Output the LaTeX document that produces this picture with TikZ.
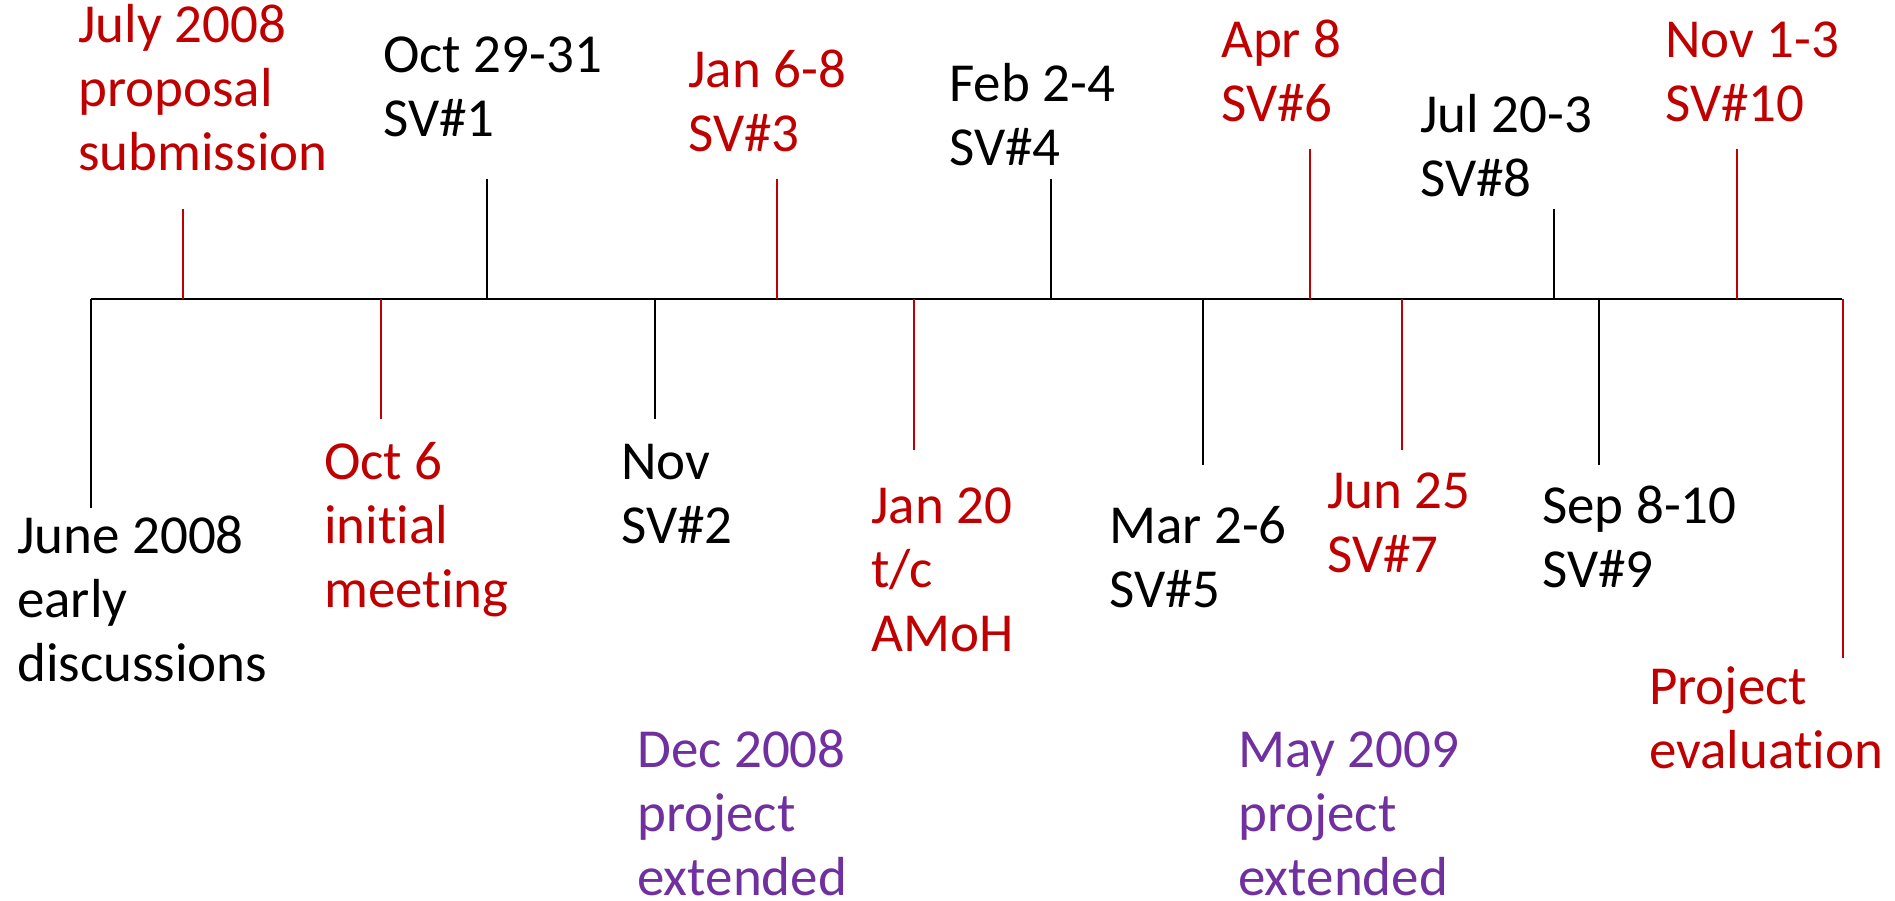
\documentclass[tikz,border=0pt]{standalone}
\usepackage{fontspec}
\setmainfont[RawFeature={-liga;-clig;-dlig}]{Carlito}
\definecolor{tlred}{HTML}{C00000}
\definecolor{tlpurple}{HTML}{7030A0}
\definecolor{tlblack}{HTML}{000000}
\newcommand\tllines[1]{\begin{tabular}[t]{@{}l@{}}#1\end{tabular}}
\begin{document}
\begin{tikzpicture}[x=1pt,y=-1pt,
  lbl/.style={anchor=base west,inner sep=0pt,font=\fontsize{55}{64}\selectfont},
  redlbl/.style={lbl,text=tlred},
  blklbl/.style={lbl,text=tlblack},
  purlbl/.style={lbl,text=tlpurple},
  axis/.style={line width=2.2pt,tlblack},
  redtick/.style={line width=1.4pt,tlred},
  blktick/.style={line width=1.4pt,tlblack}]
\useasboundingbox[fill=white] (0,0) rectangle (1895,901);
% timeline axis
\coordinate (axL) at (91,299);
\coordinate (axR) at (1842,299);
\draw[axis] (axL) -- (axR);
% tick coordinates
\coordinate (jA) at (91,299);   \coordinate (jB) at (91,508);
\coordinate (yA) at (183,299);  \coordinate (yB) at (183,209);
\coordinate (o6A) at (381,299); \coordinate (o6B) at (381,419);
\coordinate (o2A) at (487,299); \coordinate (o2B) at (487,179);
\coordinate (nA) at (655,299);  \coordinate (nB) at (655,419);
\coordinate (j6A) at (777,299); \coordinate (j6B) at (777,179);
\coordinate (j2A) at (914,299); \coordinate (j2B) at (914,450);
\coordinate (fA) at (1051,299); \coordinate (fB) at (1051,179);
\coordinate (mA) at (1203,299); \coordinate (mB) at (1203,465);
\coordinate (aA) at (1310,299); \coordinate (aB) at (1310,149);
\coordinate (u2A) at (1402,299);\coordinate (u2B) at (1402,450);
\coordinate (l2A) at (1554,299);\coordinate (l2B) at (1554,209);
\coordinate (sA) at (1599,299); \coordinate (sB) at (1599,465);
\coordinate (v1A) at (1737,299);\coordinate (v1B) at (1737,149);
\coordinate (pA) at (1843,299); \coordinate (pB) at (1843,658);
\draw[blktick] (jA) -- (jB);
\draw[redtick] (yA) -- (yB);
\draw[redtick] (o6A) -- (o6B);
\draw[blktick] (o2A) -- (o2B);
\draw[blktick] (nA) -- (nB);
\draw[redtick] (j6A) -- (j6B);
\draw[redtick] (j2A) -- (j2B);
\draw[blktick] (fA) -- (fB);
\draw[blktick] (mA) -- (mB);
\draw[redtick] (aA) -- (aB);
\draw[redtick] (u2A) -- (u2B);
\draw[blktick] (l2A) -- (l2B);
\draw[blktick] (sA) -- (sB);
\draw[redtick] (v1A) -- (v1B);
\draw[redtick] (pA) -- (pB);
% labels
\node[blklbl] (june) at (17,553) {\tllines{June 2008\\early\\discussions}};
\node[redlbl] (july) at (78,43) {\tllines{July 2008\\proposal\\submission}};
\node[redlbl] (oct6) at (324,479) {\tllines{Oct 6\\initial\\meeting}};
\node[blklbl] (oct29) at (383,73) {\tllines{Oct 29-31\\SV\#1}};
\node[blklbl] (nov) at (621,479) {\tllines{Nov\\SV\#2}};
\node[redlbl] (jan6) at (688,88) {\tllines{Jan 6-8\\SV\#3}};
\node[redlbl] (jan20) at (871,523) {\tllines{Jan 20\\t/c\\AMoH}};
\node[blklbl] (feb) at (949,102) {\tllines{Feb 2-4\\SV\#4}};
\node[blklbl] (mar) at (1109,543) {\tllines{Mar 2-6\\SV\#5}};
\node[redlbl] (apr) at (1221,58) {\tllines{Apr 8\\SV\#6}};
\node[redlbl] (jun25) at (1327,508) {\tllines{Jun 25\\SV\#7}};
\node[blklbl] (jul20) at (1420,133) {\tllines{Jul 20-3\\SV\#8}};
\node[blklbl] (sep) at (1542,523) {\tllines{Sep 8-10\\SV\#9}};
\node[redlbl] (nov1) at (1665,58) {\tllines{Nov 1-3\\SV\#10}};
\node[redlbl] (eval) at (1649,704) {\tllines{Project\\evaluation}};
\node[purlbl] (dec) at (637,767) {\tllines{Dec 2008\\project\\extended}};
\node[purlbl] (may) at (1238,767) {\tllines{May 2009\\project\\extended}};
\end{tikzpicture}
\end{document}
